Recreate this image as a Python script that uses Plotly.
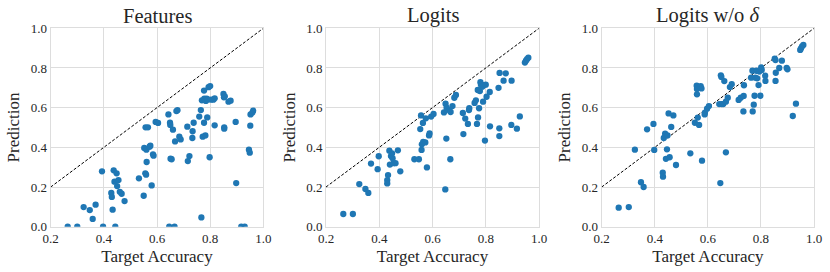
import plotly.graph_objects as go

# ---------------- data ----------------
titles = ["Features", "Logits", "Logits w/o <i>δ</i>"]
x_label = "Target Accuracy"
y_label = "Prediction"
x_ticks = [0.2, 0.4, 0.6, 0.8, 1.0]
y_ticks = [0.0, 0.2, 0.4, 0.6, 0.8, 1.0]

feat_x = [0.264, 0.300, 0.324, 0.347, 0.358, 0.369, 0.393, 0.397, 0.428, 0.430,
          0.433, 0.437, 0.440, 0.443, 0.448, 0.450, 0.455, 0.460, 0.467, 0.478,
          0.532, 0.550, 0.552, 0.557, 0.556, 0.559, 0.560, 0.561, 0.566, 0.572,
          0.575, 0.580, 0.585, 0.587, 0.595, 0.604, 0.643, 0.646, 0.649, 0.650,
          0.651, 0.655, 0.660, 0.666, 0.668, 0.673, 0.677, 0.684, 0.689, 0.714,
          0.716, 0.722, 0.733, 0.734, 0.738, 0.759, 0.765, 0.767, 0.769, 0.772,
          0.777, 0.777, 0.778, 0.782, 0.784, 0.787, 0.789, 0.790, 0.794, 0.798,
          0.800, 0.803, 0.812, 0.817, 0.817, 0.850, 0.852, 0.853, 0.853, 0.855,
          0.869, 0.877, 0.896, 0.898, 0.917, 0.930, 0.946, 0.949, 0.951, 0.952,
          0.959, 0.962]
feat_y = [0.000, 0.000, 0.099, 0.084, 0.039, 0.111, 0.279, 0.000, 0.170, 0.150,
          0.086, 0.284, 0.227, 0.000, 0.269, 0.205, 0.235, 0.176, 0.166, 0.129,
          0.244, 0.156, 0.397, 0.501, 0.269, 0.262, 0.388, 0.326, 0.501, 0.403,
          0.408, 0.208, 0.365, 0.358, 0.528, 0.523, 0.566, 0.000, 0.524, 0.513,
          0.343, 0.340, 0.489, 0.000, 0.430, 0.583, 0.587, 0.454, 0.440, 0.504,
          0.331, 0.356, 0.447, 0.481, 0.524, 0.555, 0.588, 0.047, 0.637, 0.454,
          0.524, 0.686, 0.645, 0.460, 0.634, 0.645, 0.551, 0.642, 0.703, 0.350,
          0.709, 0.640, 0.640, 0.647, 0.511, 0.669, 0.652, 0.501, 0.494, 0.657,
          0.630, 0.635, 0.528, 0.220, 0.000, 0.000, 0.388, 0.373, 0.509, 0.566,
          0.575, 0.585]

logit_x = [0.265, 0.301, 0.325, 0.348, 0.359, 0.369, 0.394, 0.398, 0.430, 0.430,
           0.433, 0.438, 0.440, 0.444, 0.448, 0.450, 0.454, 0.461, 0.470, 0.479,
           0.532, 0.549, 0.554, 0.557, 0.559, 0.560, 0.564, 0.565, 0.573, 0.575,
           0.579, 0.587, 0.589, 0.595, 0.604, 0.643, 0.649, 0.648, 0.652, 0.653,
           0.662, 0.667, 0.668, 0.675, 0.682, 0.688, 0.714, 0.716, 0.723, 0.733,
           0.737, 0.738, 0.758, 0.763, 0.767, 0.771, 0.770, 0.775, 0.778, 0.780,
           0.782, 0.787, 0.790, 0.793, 0.797, 0.800, 0.803, 0.815, 0.816, 0.848,
           0.852, 0.851, 0.851, 0.867, 0.875, 0.896, 0.897, 0.917, 0.928, 0.947,
           0.951, 0.955, 0.960]
logit_y = [0.064, 0.064, 0.215, 0.190, 0.170, 0.318, 0.290, 0.355, 0.235, 0.218,
           0.260, 0.383, 0.313, 0.356, 0.370, 0.345, 0.320, 0.320, 0.385, 0.279,
           0.340, 0.340, 0.492, 0.561, 0.387, 0.415, 0.523, 0.427, 0.425, 0.546,
           0.299, 0.460, 0.470, 0.555, 0.568, 0.576, 0.620, 0.188, 0.444, 0.600,
           0.588, 0.340, 0.578, 0.608, 0.650, 0.664, 0.573, 0.467, 0.545, 0.518,
           0.588, 0.597, 0.624, 0.637, 0.518, 0.551, 0.689, 0.597, 0.684, 0.728,
           0.716, 0.706, 0.630, 0.714, 0.434, 0.716, 0.655, 0.679, 0.506, 0.700,
           0.775, 0.496, 0.457, 0.736, 0.773, 0.513, 0.736, 0.494, 0.556, 0.827,
           0.837, 0.844, 0.852]

nod_x = [0.264, 0.302, 0.325, 0.348, 0.358, 0.371, 0.395, 0.398, 0.430, 0.431,
         0.434, 0.439, 0.442, 0.446, 0.448, 0.452, 0.456, 0.462, 0.470, 0.480,
         0.534, 0.551, 0.558, 0.559, 0.559, 0.562, 0.567, 0.573, 0.576, 0.578,
         0.588, 0.589, 0.597, 0.604, 0.643, 0.647, 0.649, 0.651, 0.652, 0.658,
         0.662, 0.668, 0.668, 0.675, 0.683, 0.690, 0.716, 0.724, 0.734, 0.735,
         0.736, 0.763, 0.768, 0.769, 0.773, 0.776, 0.779, 0.783, 0.786, 0.791,
         0.794, 0.798, 0.801, 0.803, 0.816, 0.817, 0.852, 0.855, 0.856, 0.855,
         0.869, 0.879, 0.897, 0.900, 0.920, 0.932, 0.948, 0.951, 0.955, 0.960]
nod_y = [0.096, 0.099, 0.388, 0.224, 0.200, 0.491, 0.518, 0.387, 0.272, 0.252,
         0.447, 0.469, 0.342, 0.390, 0.460, 0.571, 0.350, 0.503, 0.561, 0.311,
         0.370, 0.524, 0.711, 0.694, 0.667, 0.550, 0.513, 0.708, 0.697, 0.333,
         0.566, 0.575, 0.595, 0.608, 0.618, 0.220, 0.763, 0.755, 0.618, 0.618,
         0.734, 0.630, 0.375, 0.650, 0.704, 0.718, 0.639, 0.650, 0.581, 0.659,
         0.713, 0.751, 0.786, 0.581, 0.615, 0.660, 0.751, 0.786, 0.748, 0.714,
         0.782, 0.660, 0.803, 0.790, 0.761, 0.735, 0.847, 0.840, 0.776, 0.735,
         0.800, 0.837, 0.800, 0.793, 0.558, 0.620, 0.891, 0.899, 0.909, 0.916]

diag = [0.2, 1.0]

# ---------------- figure ----------------
W, H = 830, 272
FONT = "Liberation Serif"
TXT = "#262626"
GRID = "#dddddd"
BLUE = "#1f77b4"

panels_px = [(50.7, 263.3), (326.0, 539.0), (601.7, 814.0)]
y_top, y_bot = 28.3, 226.7
ydom = [1 - y_bot / H, 1 - y_top / H]

series = [(feat_x, feat_y), (logit_x, logit_y), (nod_x, nod_y)]

fig = go.Figure()
layout = dict(
    width=W, height=H,
    margin=dict(l=0, r=0, t=0, b=0),
    paper_bgcolor="white", plot_bgcolor="white",
    showlegend=False,
    font=dict(family=FONT, color=TXT, size=13),
    annotations=[],
)

for i, ((x0, x1), (xs, ys)) in enumerate(zip(panels_px, series)):
    n = "" if i == 0 else str(i + 1)
    xa, ya = "x" + n, "y" + n
    fig.add_trace(go.Scatter(
        x=diag, y=diag, mode="lines", xaxis=xa, yaxis=ya,
        line=dict(color="black", width=1, dash="3px,1.8px"),
        hoverinfo="skip"))
    fig.add_trace(go.Scatter(
        x=xs, y=ys, mode="markers", xaxis=xa, yaxis=ya,
        marker=dict(color=BLUE, size=6.3, line=dict(width=0)),
        cliponaxis=True))
    axcommon = dict(showline=True, mirror=True, linecolor=GRID, linewidth=1,
                    showgrid=True, gridcolor=GRID, gridwidth=1, zeroline=False,
                    ticks="", automargin=False,
                    tickfont=dict(family=FONT, size=13, color=TXT))
    layout["xaxis" + n] = dict(
        axcommon, domain=[x0 / W, x1 / W], range=[0.2, 1.0], anchor=ya,
        tickvals=x_ticks, ticktext=[f"{v:.1f}" for v in x_ticks],
        title=dict(text=x_label, font=dict(family=FONT, size=17, color=TXT),
                   standoff=4))
    layout["yaxis" + n] = dict(
        axcommon, domain=ydom, range=[0.0, 1.0], anchor=xa,
        tickvals=y_ticks, ticktext=[f"{v:.1f}" for v in y_ticks],
        title=dict(text=y_label, font=dict(family=FONT, size=17, color=TXT),
                   standoff=6))
    layout["annotations"].append(dict(
        text=titles[i], xref="paper", yref="paper",
        x=(x0 + x1) / 2 / W, y=1 - 15.5 / H, xanchor="center", yanchor="middle",
        showarrow=False, font=dict(family=FONT, size=20.5, color=TXT)))

fig.update_layout(**layout)
fig.write_html("out.html",
               config={"displayModeBar": False},
               post_script="document.body.style.margin='0';document.body.style.overflow='hidden';")
